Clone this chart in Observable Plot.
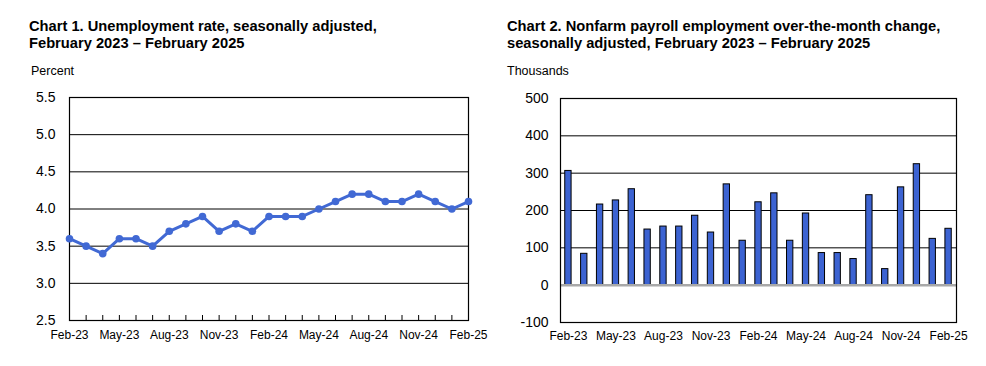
<!DOCTYPE html>
<html><head><meta charset="utf-8">
<script src="https://cdn.jsdelivr.net/npm/d3@7"></script>
<script src="https://cdn.jsdelivr.net/npm/@observablehq/plot@0.6"></script>
<style>
body{margin:0;background:#fff;font-family:"Liberation Sans",Arial,sans-serif;width:986px;height:366px;position:relative;overflow:hidden;color:#000}
.title{position:absolute;font-weight:bold;font-size:14.7px;line-height:17px;white-space:nowrap}
.unit{position:absolute;font-size:12.5px;line-height:14px}
.chart{position:absolute;top:80px}
</style></head><body>
<div class="title" style="left:29px;top:18px">Chart 1. Unemployment rate, seasonally adjusted,<br>February 2023 – February 2025</div>
<div class="unit" style="left:31px;top:64px">Percent</div>
<div class="title" style="left:507px;top:18px">Chart 2. Nonfarm payroll employment over-the-month change,<br>seasonally adjusted, February 2023 – February 2025</div>
<div class="unit" style="left:507px;top:64px">Thousands</div>
<div id="c1" class="chart" style="left:0px"></div>
<div id="c2" class="chart" style="left:490px"></div>
<script>
const months = ["Feb-23","Mar-23","Apr-23","May-23","Jun-23","Jul-23","Aug-23","Sep-23","Oct-23","Nov-23","Dec-23","Jan-24",
  "Feb-24","Mar-24","Apr-24","May-24","Jun-24","Jul-24","Aug-24","Sep-24","Oct-24","Nov-24","Dec-24","Jan-25","Feb-25"];
const unemploymentRate = [3.6,3.5,3.4,3.6,3.6,3.5,3.7,3.8,3.9,3.7,3.8,3.7,3.9,3.9,3.9,4.0,4.1,4.2,4.2,4.1,4.1,4.2,4.1,4.0,4.1];
const payrollChange = [306,84,216,227,257,149,157,157,186,141,270,119,222,246,119,192,86,86,70,241,43,262,324,124,151];
const xTickLabels = ["Feb-23","May-23","Aug-23","Nov-23","Feb-24","May-24","Aug-24","Nov-24","Feb-25"];
const yTicks1 = [2.5,3.0,3.5,4.0,4.5,5.0,5.5];
const yGrid1 = [3.0,3.5,4.0,4.5,5.0];
const yTicks2 = [-100,0,100,200,300,400,500];
const yGrid2 = [100,200,300,400];

const font = '"Liberation Sans", Arial, sans-serif';
const blue = "#4169d4";

// month index used as the x position (linear scale)
const data1 = months.map((m,i)=>({idx:i, month:m, value:unemploymentRate[i]}));
const data2 = months.map((m,i)=>({idx:i, month:m, value:payrollChange[i]}));
const labelIdx = xTickLabels.map(l => months.indexOf(l));
const innerIdx = months.map((m,i)=>i).slice(1, -1);
const halfBar = 0.2; // bar half-width as a fraction of one month slot

const c1 = Plot.plot({
  width: 490, height: 286,
  marginLeft: 69, marginRight: 22, marginTop: 17, marginBottom: 46,
  style: {fontFamily: font, fontSize: "12px", color: "#000", background: "#fff"},
  x: {type: "linear", domain: [0, months.length - 1], label: null},
  y: {domain: [2.5, 5.5], label: null},
  marks: [
    Plot.ruleY(yGrid1, {stroke: "#000", strokeWidth: 1}),
    Plot.axisX({ticks: innerIdx, tickSize: -5, tickFormat: () => "", stroke: "#000", label: null}),
    Plot.axisX({ticks: labelIdx, tickSize: 0, tickPadding: 10, fontSize: 12, tickFormat: i => months[i], label: null}),
    Plot.axisY({ticks: yTicks1, tickSize: 0, tickPadding: 14, tickFormat: d => d.toFixed(1), fontSize: 14, label: null}),
    Plot.frame({stroke: "#000", strokeWidth: 1.2}),
    Plot.line(data1, {x: "idx", y: "value", stroke: blue, strokeWidth: 3}),
    Plot.dot(data1, {x: "idx", y: "value", fill: blue, r: 3.8})
  ]
});
document.getElementById("c1").append(c1);

const c2 = Plot.plot({
  width: 496, height: 286,
  marginLeft: 70, marginRight: 30, marginTop: 18, marginBottom: 44,
  style: {fontFamily: font, fontSize: "12px", color: "#000", background: "#fff"},
  x: {type: "linear", domain: [-0.5, months.length - 0.5], label: null},
  y: {domain: [-100, 500], label: null},
  marks: [
    Plot.ruleY(yGrid2, {stroke: "#000", strokeWidth: 1}),
    Plot.axisX({ticks: labelIdx, tickSize: 0, tickPadding: 9, fontSize: 12, tickFormat: i => months[i], label: null}),
    Plot.axisY({ticks: yTicks2, tickSize: 0, tickPadding: 12, fontSize: 14, tickFormat: d => String(d), label: null}),
    Plot.rectY(data2, {x1: d => d.idx - halfBar, x2: d => d.idx + halfBar, y1: 0, y2: "value", fill: "#3c63d2", stroke: "#000", strokeWidth: 1}),
    Plot.ruleY([0], {stroke: "#a8a8a8", strokeWidth: 2.5}),
    Plot.frame({stroke: "#000", strokeWidth: 1.2})
  ]
});
document.getElementById("c2").append(c2);
</script>
</body></html>
